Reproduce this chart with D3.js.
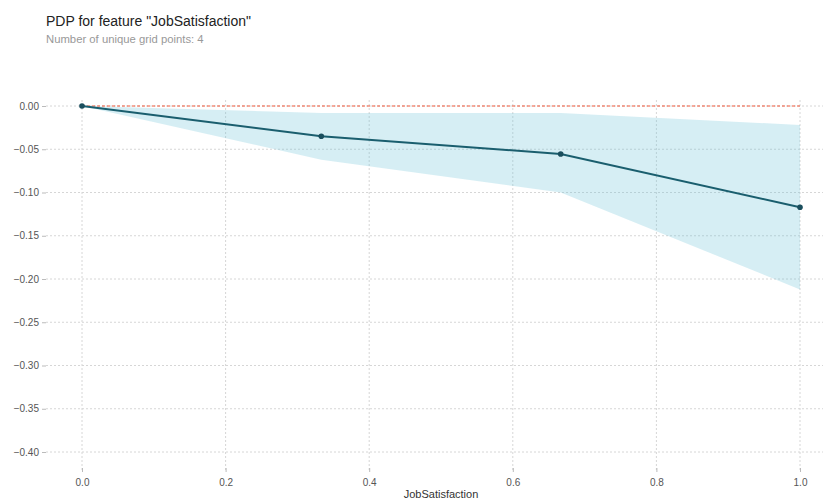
<!DOCTYPE html>
<html>
<head>
<meta charset="utf-8">
<script src="https://cdn.jsdelivr.net/npm/d3@7"></script>
<style>
  body { margin: 0; background: #fff; }
  svg { font-family: Arial, "Liberation Sans", sans-serif; }
</style>
</head>
<body>
<svg id="chart" width="823" height="499"></svg>
<script>
// grid points and pdp values
var gridPoints = [0, 0.3333, 0.6667, 1.0];
var pdpValues = [0, -0.035, -0.0555, -0.117];
var upperValues = [0, -0.008, -0.008, -0.022];
var lowerValues = [0, -0.062, -0.10, -0.212];
var xTicks = [0, 0.2, 0.4, 0.6, 0.8, 1.0];
var yTicks = [0, -0.05, -0.10, -0.15, -0.20, -0.25, -0.30, -0.35, -0.40];

var svg = d3.select("#chart");

// title
svg.append("text")
    .attr("x", 46).attr("y", 26)
    .style("font-size", "14px")
    .style("fill", "#222")
    .text('PDP for feature "JobSatisfaction"');
svg.append("text")
    .attr("x", 46).attr("y", 43)
    .style("font-size", "11.3px")
    .style("fill", "#999")
    .text("Number of unique grid points: 4");

var xScale = d3.scaleLinear().domain([0, 1]).range([82, 800]);
var yScale = d3.scaleLinear().domain([0, -0.40]).range([106, 452]);

// horizontal grid
svg.append("g")
    .selectAll("line")
    .data(yTicks)
    .enter().append("line")
    .attr("x1", 46).attr("x2", 823)
    .attr("y1", function (d) { return yScale(d); })
    .attr("y2", function (d) { return yScale(d); })
    .attr("stroke", "#d6d6d6")
    .attr("stroke-dasharray", "2,2");

// vertical grid
svg.append("g")
    .selectAll("line")
    .data(xTicks)
    .enter().append("line")
    .attr("x1", function (d) { return xScale(d); })
    .attr("x2", function (d) { return xScale(d); })
    .attr("y1", 100).attr("y2", 472)
    .attr("stroke", "#d6d6d6")
    .attr("stroke-dasharray", "2,2");

// y axis labels
var yAxis = d3.axisLeft(yScale)
    .tickValues(yTicks)
    .tickFormat(d3.format(".2f"))
    .tickSize(4);
var gy = svg.append("g")
    .attr("transform", "translate(46,0)")
    .call(yAxis);
gy.select(".domain").remove();
gy.selectAll("line").attr("stroke", "#bbb");
gy.selectAll("text")
    .style("font-size", "10px")
    .style("fill", "#555")
    .style("font-family", "Arial, 'Liberation Sans', sans-serif");

// x axis labels
var xAxis = d3.axisBottom(xScale)
    .tickValues(xTicks)
    .tickFormat(d3.format(".1f"))
    .tickSize(4);
var gx = svg.append("g")
    .attr("transform", "translate(0,468)")
    .call(xAxis);
gx.select(".domain").remove();
gx.selectAll("line").attr("stroke", "#bbb");
gx.selectAll("text")
    .attr("dy", "1.1em")
    .style("font-size", "10px")
    .style("fill", "#555")
    .style("font-family", "Arial, 'Liberation Sans', sans-serif");

svg.append("text")
    .attr("x", 441).attr("y", 498)
    .attr("text-anchor", "middle")
    .style("font-size", "11px")
    .style("fill", "#333")
    .text("JobSatisfaction");

// confidence band
var bandData = gridPoints.map(function (g, i) {
    return { x: g, lo: lowerValues[i], hi: upperValues[i] };
});
var area = d3.area()
    .x(function (d) { return xScale(d.x); })
    .y0(function (d) { return yScale(d.lo); })
    .y1(function (d) { return yScale(d.hi); });
svg.append("path")
    .datum(bandData)
    .attr("d", area)
    .attr("fill", "#66c2d7")
    .attr("fill-opacity", 0.27);

// zero reference line
svg.append("line")
    .attr("x1", xScale(0)).attr("x2", xScale(1))
    .attr("y1", yScale(0)).attr("y2", yScale(0))
    .attr("stroke", "#f0583a")
    .attr("stroke-width", 1.2)
    .attr("stroke-dasharray", "3,2");

// pdp line
var lineData = gridPoints.map(function (g, i) {
    return { x: g, v: pdpValues[i] };
});
var line = d3.line()
    .x(function (d) { return xScale(d.x); })
    .y(function (d) { return yScale(d.v); });
svg.append("path")
    .datum(lineData)
    .attr("d", line)
    .attr("fill", "none")
    .attr("stroke", "#1a5e6e")
    .attr("stroke-width", 2);

svg.append("g")
    .selectAll("circle")
    .data(lineData)
    .enter().append("circle")
    .attr("cx", function (d) { return xScale(d.x); })
    .attr("cy", function (d) { return yScale(d.v); })
    .attr("r", 2.8)
    .attr("fill", "#1a4e5d");
</script>
</body>
</html>
